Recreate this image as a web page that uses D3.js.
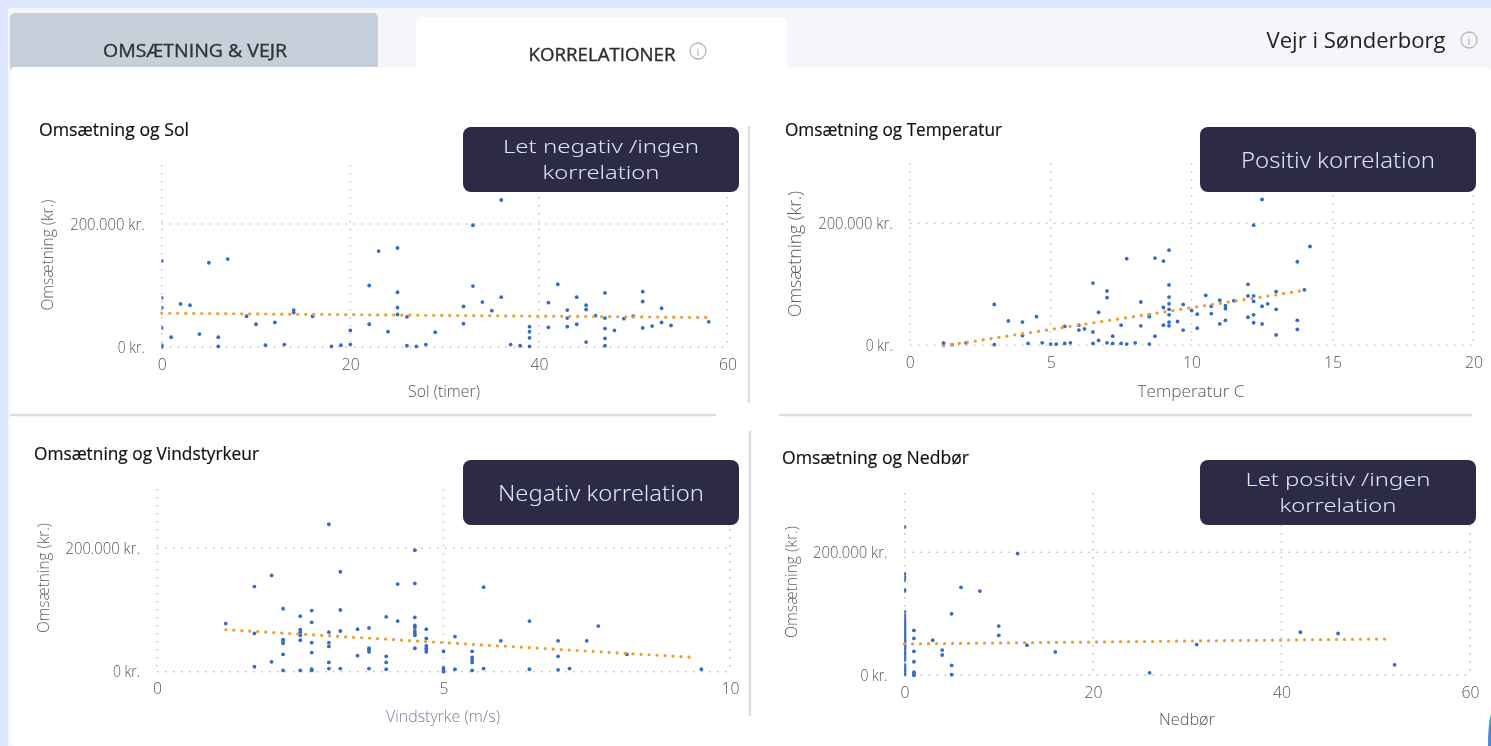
<!DOCTYPE html>
<html lang="da">
<head>
<meta charset="utf-8">
<script src="https://cdn.jsdelivr.net/npm/d3@7"></script>
<style>
html,body{margin:0;padding:0;background:#fff;overflow:hidden}
svg{display:block;filter:blur(0.45px)}
text{font-family:"Open Sans","Noto Sans",sans-serif}
</style>
</head>
<body>
<svg id="c" width="1491" height="746"></svg>
<script>
// Values in thousand kr.
const sunHours = [0,0,0,0,0,0,1,2,3,4,5,6,6,7,9,10,11,12,13,14,14,16,18,19,20,20,22,22,23,24,25,25,25,25,26,26,27,28,29,32,32,33,33,34,35,36,36,37,38,39,39,39,39,41,41,42,43,43,43,44,44,45,45,45,46,47,47,47,47,47,48,49,50,51,51,51,52,53,53,54,58];
const sunRevenue = [140,80,64,31,3,0,16,70,68,21,137,16,1,143,50,37,3,40,4,60,56,50,1,3,4,27,100,37,156,25,161,89,64,53,49,2,1,4,24,66,38,198,99,73,59,81,239,4,2,33,25,15,1,72,32,102,60,47,33,81,37,68,61,8,51,88,47,30,14,2,27,46,50,90,74,31,34,63,40,35,41];
const sunTrendX = [0,58];
const sunTrendY = [55,48];

const tempC = [1.2,1.2,1.5,2,3,3,3.5,4,4,4.2,4.5,4.7,5,5.2,5.5,5.5,5.7,6,6,6.2,6.5,6.5,6.5,6.7,6.7,7,7,7,7.2,7.2,7.5,7.5,7.7,7.7,8,8.2,8.2,8.5,8.5,8.5,8.7,8.7,9,9,9,9.2,9.2,9.2,9.2,9.2,9.2,9.2,9.2,9.5,9.7,9.7,10,10.2,10.2,10.5,10.7,10.7,11,11,11.2,11.2,11.2,11.5,12,12,12,12.2,12.2,12.2,12.2,12.2,12.5,12.5,12.5,12.7,13,13,13,13.75,13.75,13.75,14,14.2];
const tempRevenue = [4,2,1,4,67,1,40,38,16,3,47,4,2,2,3,31,4,33,25,27,102,22,3,54,8,89,78,4,15,3,33,3,142,2,4,71,32,50,47,2,143,15,138,62,33,156,99,79,68,59,50,38,32,39,67,25,57,51,28,82,64,52,74,35,65,60,41,73,100,81,46,197,81,72,50,37,239,64,35,68,88,59,17,137,41,26,91,162];
const tempTrendX = [1.2,14];
const tempTrendY = [-1,90];

const windMs = [1.2,1.7,1.7,1.7,2,2,2.2,2.2,2.2,2.2,2.2,2.2,2.5,2.5,2.5,2.5,2.5,2.5,2.7,2.7,2.7,2.7,2.7,2.7,3,3,3,3,3,3,3.2,3.2,3.2,3.2,3.5,3.5,3.7,3.7,3.7,3.7,3.7,4,4,4,4,4.2,4.2,4.5,4.5,4.5,4.5,4.5,4.5,4.5,4.5,4.5,4.7,4.7,4.7,4.7,4.7,4.7,5,5,5,5,5.2,5.2,5.5,5.5,5.5,5.5,5.5,5.7,5.7,6,6.5,6.5,7,7,7,7.2,7.5,7.7,8.2,9.5];
const windRevenue = [78,138,62,8,156,16,102,52,50,46,28,2,90,68,64,59,51,2,99,80,47,31,4,2,239,64,47,41,15,5,162,100,66,5,69,26,71,38,35,32,5,89,25,15,4,142,82,197,143,88,75,72,66,62,59,38,69,54,42,38,35,32,33,6,3,0,57,4,33,23,19,15,2,137,5,50,82,4,50,25,3,5,50,74,28,4];
const windTrendX = [1.2,9.4];
const windTrendY = [68,23];

const rainMm = [0,0,0,0,0,0,0,0,0,0,0,0,0,0,0,0,0,0,0,0,0,0,0,0,0,0,0,0,0,0,0,0,0,0,0,0,0,0,0,0,0,1,1,1,1,1,1,1,3,4,4,5,5,5,6,8,10,10,12,13,16,26,31,42,46,52];
const rainRevenue = [241,165,160,155,139,137,103,98,94,90,87,85,82,79,76,74,71,68,66,63,60,57,55,52,49,47,44,41,38,36,33,30,27,25,17,14,11,8,6,3,1,73,60,39,22,5,2,0,57,41,33,100,16,1,143,137,80,65,198,49,38,4,50,70,68,17];
const rainTrendX = [0,51];
const rainTrendY = [51,59];

const sunTicks = [0,20,40,60];
const tempTicks = [0,5,10,15,20];
const windTicks = [0,5,10];
const rainTicks = [0,20,40,60];
const revenueTicks = [0,200];
const revenueLabels = ["0 kr.","200.000 kr."];

const titles = ["Omsætning og Sol","Omsætning og Temperatur","Omsætning og Vindstyrkeur","Omsætning og Nedbør"];
const xTitles = ["Sol (timer)","Temperatur C","Vindstyrke (m/s)","Nedbør"];
const notes = [["Let negativ /ingen","korrelation"],["Positiv korrelation"],["Negativ korrelation"],["Let positiv /ingen","korrelation"]];

const svg = d3.select("#c");
const BG = "#f4f6fa", EDGE = "#dbe8fe";

// page frame
svg.append("rect").attr("width",1491).attr("height",746).attr("fill",EDGE);
svg.append("rect").attr("x",8).attr("y",8).attr("width",1483).attr("height",738).attr("fill",BG);
svg.append("rect").attr("x",10).attr("y",13).attr("width",368).attr("height",70).attr("rx",5).attr("fill","#c5d0da");
svg.append("rect").attr("x",416).attr("y",17).attr("width",371).attr("height",70).attr("rx",7).attr("fill","#fff");
svg.append("rect").attr("x",10).attr("y",67).attr("width",1481).attr("height",679).attr("rx",5).attr("fill","#fff");
svg.append("path").attr("d","M1491 714 q-3 10 -3 32 l3 0 z").attr("fill","#4f86d8");

function label(x,y,t,size,fill,w,anchor){
  const e = svg.append("text").attr("x",x).attr("y",y).attr("fill",fill).attr("font-size",size)
    .attr("text-anchor",anchor||"middle").attr("dominant-baseline","central").text(t);
  if(w) e.attr("textLength",w).attr("lengthAdjust","spacingAndGlyphs");
  return e;
}
label(195,50,"OMSÆTNING & VEJR",18,"#333",184).attr("stroke","#333").attr("stroke-width",0.35);
label(602,54,"KORRELATIONER",18,"#2c2c2c",147).attr("stroke","#2c2c2c").attr("stroke-width",0.35);
label(1356,39,"Vejr i Sønderborg",22,"#222",179);
[[698,51],[1469,40]].forEach(([x,y])=>{
  svg.append("circle").attr("cx",x).attr("cy",y).attr("r",8).attr("fill","none").attr("stroke","#b5b5b5").attr("stroke-width",1.3);
  label(x,y,"i",11,"#a8a8a8");
});

// dividers
[[10,415,716,415],[779,415,1472,415],[749,126,749,403],[750,431,750,716]].forEach(d=>{
  svg.append("line").attr("x1",d[0]).attr("y1",d[1]).attr("x2",d[2]).attr("y2",d[3]).attr("stroke","#dcdee0").attr("stroke-width",2.5);
});

const layout = [
 {xs:sunHours,ys:sunRevenue,tx:sunTrendX,ty:sunTrendY,ticks:sunTicks,xd:[0,60],x0:161.7,x1:727.6,y0:347,y200:224,top:165,
  tt:[39,129,150],xt:[444,390,72],yt:[46,255,111,17],note:[463,127],nw:[196,117],xc:"#555"},
 {xs:tempC,ys:tempRevenue,tx:tempTrendX,ty:tempTrendY,ticks:tempTicks,xd:[0,20],x0:909.7,x1:1473.5,y0:345.3,y200:223.3,top:163,
  tt:[785,129,217],xt:[1191,390,107],yt:[794,254,126,18],note:[1200,127],nw:[194],xc:"#555"},
 {xs:windMs,ys:windRevenue,tx:windTrendX,ty:windTrendY,ticks:windTicks,xd:[0,10],x0:157,x1:730,y0:671.7,y200:548.3,top:489,
  tt:[34,453,225],xt:[443,715,114],yt:[42,578,110,17],note:[463,460],nw:[206],xc:"#7a7f9e"},
 {xs:rainMm,ys:rainRevenue,tx:rainTrendX,ty:rainTrendY,ticks:rainTicks,xd:[0,60],x0:904.5,x1:1470,y0:675.3,y200:552.3,top:493,
  tt:[782,457,187],xt:[1187,718,56],yt:[790,582,112,17],note:[1200,460],nw:[185,117],xc:"#555"}
];

layout.forEach((c,i)=>{
  const x = d3.scaleLinear().domain(c.xd).range([c.x0,c.x1]);
  const pxPerK = (c.y0-c.y200)/200;
  const y = d3.scaleLinear().domain([0,(c.y0-c.top)/pxPerK]).range([c.y0,c.top]);
  const g = svg.append("g");

  // grid
  g.append("g").selectAll("line").data(c.ticks).join("line")
    .attr("x1",d=>x(d)).attr("x2",d=>x(d)).attr("y1",c.top).attr("y2",c.y0)
    .attr("stroke","#c4c4c4").attr("stroke-width",1.6).attr("stroke-dasharray","1.6 6.4");
  g.append("g").selectAll("line").data(revenueTicks).join("line")
    .attr("x1",c.x0).attr("x2",c.x1).attr("y1",d=>y(d)).attr("y2",d=>y(d))
    .attr("stroke","#c4c4c4").attr("stroke-width",1.6).attr("stroke-dasharray","1.6 6.4");

  // axes
  const ax = g.append("g").attr("transform",`translate(0,${c.y0})`)
    .call(d3.axisBottom(x).tickValues(c.ticks).tickSize(0).tickPadding(6));
  const ay = g.append("g").attr("transform",`translate(${c.x0},0)`)
    .call(d3.axisLeft(y).tickValues(revenueTicks).tickSize(0).tickPadding(17)
      .tickFormat((d,j)=>revenueLabels[j]));
  [ax,ay].forEach(a=>{
    a.select(".domain").remove();
    a.selectAll("text").attr("fill","#555").attr("font-size",16.5)
      .style("font-family","'Open Sans',sans-serif").attr("font-weight",300);
  });
  ax.selectAll("text").attr("dy","1em").attr("textLength",d=>d>=10?18:9).attr("lengthAdjust","spacingAndGlyphs");
  ay.selectAll("text").attr("textLength",d=>d?74.5:27).attr("lengthAdjust","spacingAndGlyphs");

  // marks, clipped at the plot's left edge like the original
  const clipId = "clip"+i;
  svg.append("clipPath").attr("id",clipId).append("rect")
    .attr("x",c.x0-0.2).attr("y",c.top-5).attr("width",c.x1-c.x0+6).attr("height",c.y0-c.top+8);
  g.append("g").attr("clip-path",`url(#${clipId})`).selectAll("circle").data(c.xs.map((v,j)=>[v,c.ys[j]])).join("circle")
    .attr("cx",d=>x(d[0])).attr("cy",d=>y(d[1])).attr("r",1.9).attr("fill","#356dc4");
  g.append("path").attr("d",d3.line().x(d=>x(d[0])).y(d=>y(d[1]))(c.tx.map((v,j)=>[v,c.ty[j]])))
    .attr("fill","none").attr("stroke","#e9a038").attr("stroke-width",3.2)
    .attr("stroke-linecap","round").attr("stroke-dasharray","0.1 7.9");

  // labels
  label(c.tt[0],c.tt[1],titles[i],18,"#111",c.tt[2],"start").attr("stroke","#111").attr("stroke-width",0.2);
  label(c.xt[0],c.xt[1],xTitles[i],16.5,c.xc,c.xt[2]).attr("font-weight",300);
  label(0,0,"Omsætning (kr.)",c.yt[3],"#5f5f5f",c.yt[2]).attr("font-weight",300)
    .attr("transform",`translate(${c.yt[0]},${c.yt[1]}) rotate(-90)`);

  // callout
  svg.append("rect").attr("x",c.note[0]).attr("y",c.note[1]).attr("width",276).attr("height",65).attr("rx",8).attr("fill","#2d2a45");
  const cx = c.note[0]+138, cy = c.note[1]+31.5;
  notes[i].forEach((t,j)=>{
    const n = notes[i].length;
    label(cx,cy+(j-(n-1)/2)*26,t,n>1?19:22,"#dfe6f6",c.nw[j]).attr("font-weight",300)
      .style("font-family","'Noto Sans',sans-serif");
  });
});
</script>
</body>
</html>
